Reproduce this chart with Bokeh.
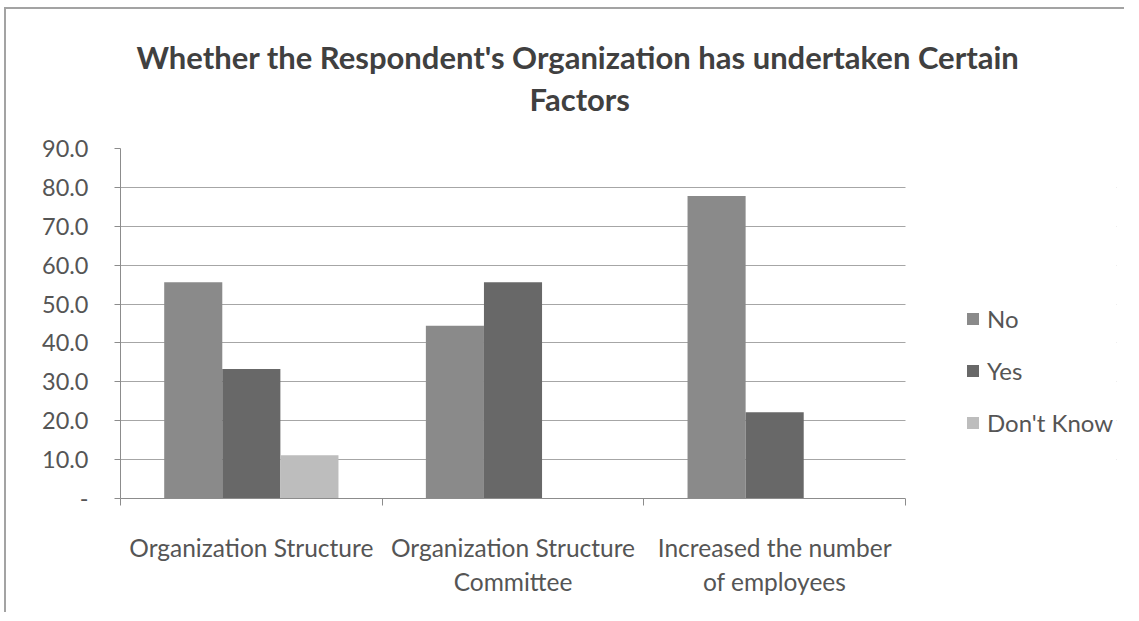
from bokeh.plotting import figure
from bokeh.models import (Range1d, FixedTicker, Title, Legend, LegendItem,
                          ColumnDataSource, BoxAnnotation)
from bokeh.transform import dodge
from bokeh.embed import file_html
from bokeh.resources import INLINE

# ---- data ----
categories = ["Organization Structure",
              "Organization Structure Committee",
              "Increased the number of employees"]
tick_labels = ["Organization Structure",
               "Organization Structure\nCommittee",
               "Increased the number\nof employees"]
series_names = ["No", "Yes", "Don't Know"]
no_values = [55.6, 44.4, 77.8]
yes_values = [33.3, 55.6, 22.2]
dont_know_values = [11.1, 0.0, 0.0]
y_ticks = [0, 10, 20, 30, 40, 50, 60, 70, 80, 90]
y_tick_labels = ["-", "10.0", "20.0", "30.0", "40.0", "50.0",
                 "60.0", "70.0", "80.0", "90.0"]
title_lines = ["Whether the Respondent's Organization has undertaken Certain",
               "Factors"]

FONT = "Lato"
colors = ["#8a8a8a", "#686868", "#bdbdbd"]

# layout (pixels)
W, H = 1120, 605
BL, BR, BT, BB = 114, 10, 139, 116
CAT_PX = 785                      # width of the category region
n = len(categories)
frame_px = W - BL - BR
x_end = n * frame_px / CAT_PX     # frame extends right to hold the legend

pos = [i + 0.5 for i in range(n)]
src = ColumnDataSource(dict(pos=pos, no=no_values, yes=yes_values,
                            dk=dont_know_values))

p = figure(width=W, height=H,
           x_range=Range1d(0, x_end), y_range=Range1d(0, 90),
           output_backend="svg", toolbar_location=None,
           min_border_left=BL, min_border_right=BR,
           min_border_top=BT, min_border_bottom=BB)
p.outline_line_color = None
p.background_fill_color = "white"
p.border_fill_color = "white"
p.styles = {"border-top": "2px solid #a3a3a3", "border-left": "2px solid #a3a3a3",
            "margin-left": "4px", "margin-top": "7px"}

bw = 0.222
r_no = p.vbar(x=dodge("pos", -bw, range=p.x_range), top="no", width=bw,
              source=src, fill_color=colors[0], line_color=None)
r_yes = p.vbar(x=dodge("pos", 0, range=p.x_range), top="yes", width=bw,
               source=src, fill_color=colors[1], line_color=None)
r_dk = p.vbar(x=dodge("pos", bw, range=p.x_range), top="dk", width=bw,
              source=src, fill_color=colors[2], line_color=None)

# hide gridlines to the right of the category region (legend area)
p.add_layout(BoxAnnotation(left=n, fill_color="white", fill_alpha=1,
                           line_color=None))

# titles: spacer next to the plot, then the two title lines
spacer = Title(text=" ", align="left", text_font=FONT, text_font_size="10px",
               text_color="white", standoff=16)
t2 = Title(text=title_lines[1], align="left", offset=409, text_font=FONT,
           text_font_size="31px", text_font_style="bold", text_color="#404040",
           standoff=2)
t1 = Title(text=title_lines[0], align="left", offset=16, text_font=FONT,
           text_font_size="31px", text_font_style="bold", text_color="#404040",
           standoff=2)
p.add_layout(spacer, "above")
p.add_layout(t2, "above")
p.add_layout(t1, "above")

# y axis
yt = FixedTicker(ticks=y_ticks)
p.yaxis.ticker = yt
p.ygrid.ticker = yt
p.yaxis.major_label_overrides = dict(zip(y_ticks, y_tick_labels))
p.yaxis.minor_tick_line_color = None
p.yaxis.major_tick_in = 0
p.yaxis.major_tick_out = 6
p.yaxis.major_tick_line_color = "#8c8c8c"
p.yaxis.axis_line_color = "#8c8c8c"
p.yaxis.major_label_standoff = 26
p.yaxis.major_label_text_font = FONT
p.yaxis.major_label_text_font_size = "23.5px"
p.yaxis.major_label_text_color = "#555555"

p.ygrid.grid_line_color = "#a6a6a6"
p.ygrid.grid_line_width = 1
p.xgrid.visible = False

# x axis
xt = FixedTicker(ticks=pos, minor_ticks=list(range(n + 1)))
p.xaxis.ticker = xt
p.xaxis.bounds = (0, n)
p.xaxis.major_label_overrides = dict(zip(pos, tick_labels))
p.xaxis.major_tick_line_color = None
p.xaxis.minor_tick_in = 0
p.xaxis.minor_tick_out = 7
p.xaxis.minor_tick_line_color = "#8c8c8c"
p.xaxis.axis_line_color = "#8c8c8c"
p.xaxis.major_label_standoff = 27
p.xaxis.major_label_text_font = FONT
p.xaxis.major_label_text_font_size = "24.5px"
p.xaxis.major_label_text_color = "#555555"
p.xaxis.major_label_text_align = "center"

# legend
legend = Legend(items=[LegendItem(label=series_names[0], renderers=[r_no]),
                       LegendItem(label=series_names[1], renderers=[r_yes]),
                       LegendItem(label=series_names[2], renderers=[r_dk])],
                location=(845, 61), orientation="vertical",
                glyph_width=15, glyph_height=15, label_height=24,
                spacing=23, padding=0, margin=0, label_standoff=7,
                border_line_color=None, background_fill_alpha=0,
                label_text_font=FONT, label_text_font_size="24px",
                label_text_color="#555555")
p.add_layout(legend)

open("out.html", "w").write(file_html(p, INLINE))
